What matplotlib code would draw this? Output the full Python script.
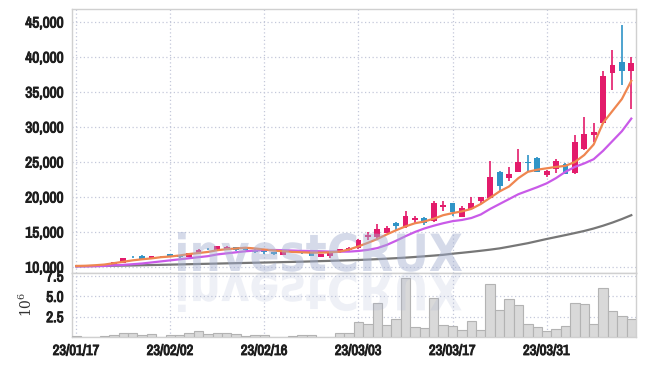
import matplotlib
matplotlib.use('Agg')
import matplotlib.pyplot as plt
from matplotlib import font_manager as fm
from matplotlib import patheffects as pe
from matplotlib.patches import PathPatch
from matplotlib.textpath import TextPath
from matplotlib.font_manager import FontProperties
from matplotlib.transforms import Affine2D
from matplotlib.ticker import FuncFormatter, FixedLocator

# ---------------- data ----------------
opens = [10150, 10000, 10000, 10150, 10250, 10550, 11450, 11600, 11200, 11420,
         11800, 11440, 11430, 12000, 12550, 12390, 12530, 12860, 12760, 12470,
         12330, 12100, 11710, 12100, 12140, 12000, 11430, 11530, 12100, 12390,
         12670, 14290, 14290, 14900, 16290, 15710, 16760, 17000, 16530, 18570,
         19140, 17190, 18330, 19430, 19900, 23570, 22760, 23610, 25000, 25570,
         23190, 24040, 24710, 23430, 26810, 28900, 30610, 37760, 39290, 37960]
highs = [10220, 10100, 10100, 10450, 10750, 11350, 11600, 11650, 11600, 11500,
         11850, 11500, 12050, 12550, 12700, 13050, 12950, 12900, 12800, 12500,
         12400, 12150, 12250, 12350, 12200, 12050, 11900, 12100, 12600, 12800,
         14000, 14950, 16100, 15800, 16470, 18000, 17290, 17100, 19470, 19390,
         19200, 18760, 20040, 20050, 25190, 23650, 24240, 26810, 25960, 25650,
         23800, 25500, 24800, 28860, 31470, 30530, 37960, 41000, 44570, 39960]
lows = [10080, 9980, 9980, 10100, 10200, 10500, 11300, 11150, 11150, 11350,
        11450, 11350, 11400, 11950, 12400, 12350, 12450, 12350, 12250, 12050,
        11810, 11750, 11650, 12050, 11900, 11500, 11380, 11330, 12050, 12350,
        12600, 13810, 13810, 14800, 15140, 15530, 16140, 16000, 16500, 18040,
        17290, 17150, 18300, 19100, 19850, 20670, 22240, 23550, 23530, 23550,
        22900, 23500, 23250, 23350, 26750, 27860, 30430, 35240, 35960, 32530]
closes = [10100, 10060, 10060, 10400, 10700, 11300, 11400, 11200, 11550, 11400,
          11480, 11420, 12000, 12470, 12500, 13000, 12860, 12390, 12390, 12100,
          12200, 11810, 12190, 12290, 11960, 11570, 11860, 12040, 12530, 12670,
          13900, 14570, 15430, 15610, 15900, 17330, 17040, 16240, 19140, 18900,
          17810, 18380, 19140, 20000, 22860, 21610, 23290, 25000, 24900, 23610,
          23710, 25190, 23330, 27900, 29000, 29290, 37290, 38860, 37960, 39140]
ma_orange = [10150, 10180, 10250, 10350, 10550, 10750, 10950, 11100, 11230, 11400,
             11500, 11650, 11850, 12000, 12150, 12400, 12550, 12650, 12750, 12650,
             12500, 12350, 12250, 12150, 12100, 12050, 12050, 12100, 12200, 12500,
             12950, 13450, 14000, 14650, 15250, 15800, 16250, 16500, 16900, 17400,
             17700, 17950, 18300, 19000, 19900, 20800, 21500, 22700, 23600, 23900,
             24100, 24300, 24450, 25000, 26000, 27500, 30600, 32300, 34000, 36600]
ma_purple = [10100, 10100, 10120, 10150, 10250, 10300, 10400, 10500, 10650, 10800,
             10950, 11100, 11250, 11400, 11550, 11800, 11950, 12100, 12250, 12350,
             12430, 12430, 12400, 12350, 12300, 12280, 12250, 12200, 12190, 12200,
             12290, 12450, 12700, 13150, 13750, 14400, 15000, 15500, 15900, 16250,
             16550, 16720, 17000, 17500, 18300, 19000, 19700, 20400, 20900, 21400,
             21950, 22700, 23600, 24300, 24800, 25400, 26600, 28000, 29400, 31200]
ma_grey = [10100, 10120, 10140, 10160, 10180, 10200, 10220, 10250, 10280, 10310,
           10340, 10370, 10400, 10430, 10460, 10490, 10520, 10550, 10580, 10610,
           10640, 10670, 10700, 10730, 10760, 10800, 10840, 10880, 10920, 10960,
           11000, 11060, 11120, 11190, 11260, 11340, 11430, 11530, 11630, 11740,
           11900, 12030, 12170, 12320, 12480, 12660, 12900, 13150, 13400, 13700,
           14000, 14280, 14560, 14850, 15150, 15500, 15900, 16350, 16850, 17400]
volume_m = [0.1, 0.0, 0.0, 0.1, 0.25, 0.45, 0.45, 0.2, 0.35, 0.05,
            0.2, 0.2, 0.53, 0.7, 0.4, 0.55, 0.55, 0.4, 0.15, 0.3,
            0.3, 0.02, 0.05, 0.15, 0.3, 0.3, 0.05, 0.05, 0.55, 0.5,
            1.8, 1.55, 4.15, 1.45, 2.25, 7.2, 1.25, 1.1, 4.75, 1.45,
            1.35, 0.85, 1.95, 0.85, 6.5, 3.3, 4.65, 3.95, 1.65, 1.2,
            0.75, 1.0, 1.35, 4.2, 4.05, 1.65, 6.0, 3.2, 2.6, 2.25]
tick_idx = [0, 10, 20, 30, 40, 50]
tick_labels = ['23/01/17', '23/02/02', '23/02/16', '23/03/03', '23/03/17', '23/03/31']
price_ticks = [10000, 15000, 20000, 25000, 30000, 35000, 40000, 45000]
vol_ticks = [2.5, 5.0, 7.5]

# ---------------- font choice (prefer a narrow face) ----------------
ttf = fm.fontManager.ttflist
narrow_names = [f.name for f in ttf if ('Narrow' in f.name or 'Condensed' in f.name)]
cond_dejavu = any(f.name == 'DejaVu Sans' and f.stretch == 'condensed' for f in ttf)
stretch = 'normal'
if narrow_names:
    fam = sorted(set(narrow_names))[0]
    ysize, xsize = 11, 10.5
elif cond_dejavu:
    fam = 'DejaVu Sans'
    stretch = 'condensed'
    ysize, xsize = 9.5, 9.5
else:
    fam = 'Roboto'
    ysize, xsize = 10, 9.5
plt.rcParams['font.family'] = [fam, 'DejaVu Sans']
plt.rcParams['font.stretch'] = stretch
plt.rcParams['font.weight'] = 'bold'

UP = '#e31b6b'
DOWN = '#2f94c7'
GRID = '#c4c8da'
SPINE = '#d0d0d0'
TXT = '#1e1e1e'
BOLDEN = [pe.withStroke(linewidth=0.7, foreground=TXT)]

W, H = 645, 366
fig = plt.figure(figsize=(W / 100, H / 100), dpi=100)
L, R = 72 / W, 636 / W
ax = fig.add_axes([L, 1 - 272.5 / H, R - L, (272.5 - 9) / H])
axv = fig.add_axes([L, 1 - 337 / H, R - L, (337 - 272.5) / H], sharex=ax)

n = len(closes)
xs = list(range(n))
colors = [UP if c >= o else DOWN for o, c in zip(opens, closes)]

for a in (ax, axv):
    a.set_axisbelow(True)
    a.grid(True, linestyle=(0, (1, 2)), color=GRID, linewidth=0.9)
    for s in a.spines.values():
        s.set_color(SPINE)
        s.set_linewidth(1.0)
    a.tick_params(length=0, colors=TXT, labelsize=ysize, pad=6)

# candles
ax.vlines(xs, lows, highs, colors=colors, linewidth=1.2, zorder=3)
bottoms = [min(o, c) for o, c in zip(opens, closes)]
heights = [max(abs(c - o), 80) for o, c in zip(opens, closes)]
ax.bar(xs, heights, bottom=bottoms, width=0.62, color=colors, linewidth=0, zorder=4)

# moving averages
ax.plot(xs, ma_grey, color='#777777', linewidth=1.6, zorder=5)
ax.plot(xs, ma_purple, color='#c95ae8', linewidth=1.6, zorder=5)
ax.plot(xs, ma_orange, color='#ef8650', linewidth=1.6, zorder=5)

ax.set_xlim(-0.45, 59.5)
ax.set_ylim(9214, 46860)
ax.yaxis.set_major_locator(FixedLocator(price_ticks))
ax.yaxis.set_major_formatter(FuncFormatter(lambda v, p: f'{int(v):,}'))
ax.tick_params(axis='x', labelbottom=False)

# volume
axv.bar(xs, volume_m, width=1.0, color='#d9d9d9', edgecolor='#b3b3b3', linewidth=0.8, zorder=3)
axv.set_ylim(0, 7.93)
axv.yaxis.set_major_locator(FixedLocator(vol_ticks))
axv.yaxis.set_major_formatter(FuncFormatter(lambda v, p: f'{v:.1f}'))
axv.xaxis.set_major_locator(FixedLocator(tick_idx))
axv.set_xticklabels(tick_labels, fontsize=xsize)
axv.tick_params(axis='x', pad=5)
axv.set_ylabel(r'$\mathregular{10^6}$', fontfamily='DejaVu Serif', fontweight='normal',
               fontstretch='normal', fontsize=10, color='#333333', labelpad=8)

for lab in ax.get_yticklabels() + axv.get_yticklabels() + axv.get_xticklabels():
    lab.set_path_effects(BOLDEN)

# watermark "investCRUX" with reflection
fp = FontProperties(family='DejaVu Sans', weight='bold', stretch='normal')
tp = TextPath((0, 0), 'investCRUX', size=100, prop=fp)
bb = tp.get_extents()
x0, x1 = 178, 462
base_y = H - 271
sx = (x1 - x0) / bb.width
sy = 39 / bb.y1
tr_main = (Affine2D().translate(-bb.x0, 0).scale(sx, sy)
           .translate(x0, base_y).scale(1 / W, 1 / H))
tr_refl = (Affine2D().translate(-bb.x0, 0).scale(sx, -sy)
           .translate(x0, base_y - 2).scale(1 / W, 1 / H))
wm = PathPatch(tr_main.transform_path(tp), facecolor='#a3afd0', edgecolor='none',
               alpha=0.45, transform=fig.transFigure, zorder=10)
wr = PathPatch(tr_refl.transform_path(tp), facecolor='#a3afd0', edgecolor='none',
               alpha=0.18, transform=fig.transFigure, zorder=10)
fig.add_artist(wm)
fig.add_artist(wr)

fig.savefig('out.png', dpi=100)
